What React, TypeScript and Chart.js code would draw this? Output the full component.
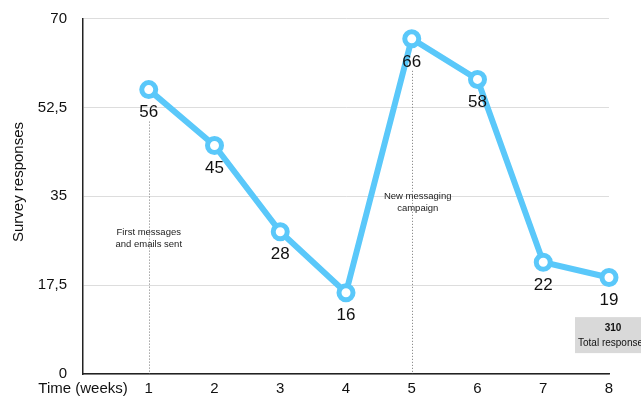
import React, { useEffect, useRef } from "react";
import { Chart, registerables } from "chart.js";

Chart.register(...registerables);

const weeks = [1, 2, 3, 4, 5, 6, 7, 8];
const responses = [56, 45, 28, 16, 66, 58, 22, 19];
const yTicks = [0, 17.5, 35, 52.5, 70];
const xAxisLabel = "Time (weeks)";
const yAxisTitle = "Survey responses";
const annotationWeeks = [1, 5];
const annotationTexts = [
  ["First messages", "and emails sent"],
  ["New messaging", "campaign"],
];
const annotationYValues = [27.8, 34.9];
const totalLabel = "Total responses";

const FONT = "'Liberation Sans', Arial, Helvetica, sans-serif";
const BLUE = "#5AC8FA";

export default function App() {
  const ref = useRef<HTMLCanvasElement | null>(null);

  useEffect(() => {
    document.body.style.margin = "0";
    const canvas = ref.current;
    if (!canvas) return;
    const total = responses.reduce((a, b) => a + b, 0);

    const extras = {
      id: "extras",
      beforeDatasetsDraw(chart: any) {
        const { ctx, scales } = chart;
        const xs = scales.x;
        const ys = scales.y;
        ctx.save();
        annotationWeeks.forEach((w) => {
          const idx = weeks.indexOf(w);
          const px = Math.round(xs.getPixelForValue(w)) + 0.5;
          const top = ys.getPixelForValue(responses[idx]) + 32;
          ctx.beginPath();
          ctx.setLineDash([1, 2]);
          ctx.strokeStyle = "#777";
          ctx.lineWidth = 1;
          ctx.moveTo(px, top);
          ctx.lineTo(px, ys.getPixelForValue(0));
          ctx.stroke();
        });
        ctx.setLineDash([]);
        ctx.fillStyle = "#222";
        ctx.font = `9.5px ${FONT}`;
        ctx.textAlign = "center";
        ctx.textBaseline = "middle";
        annotationWeeks.forEach((w, i) => {
          const px = xs.getPixelForValue(w) + (i === 1 ? 6 : 0);
          const py = ys.getPixelForValue(annotationYValues[i]);
          annotationTexts[i].forEach((line, j) => {
            ctx.fillText(line, px, py + j * 12);
          });
        });
        ctx.save();
        ctx.translate(19, 182);
        ctx.rotate(-Math.PI / 2);
        ctx.font = `15px ${FONT}`;
        ctx.fillStyle = "#111";
        ctx.fillText(yAxisTitle, 0, 0);
        ctx.restore();
        ctx.restore();
      },
      afterDatasetsDraw(chart: any) {
        const { ctx, scales } = chart;
        const xs = scales.x;
        const ys = scales.y;
        ctx.save();
        ctx.fillStyle = "#111";
        ctx.font = `17px ${FONT}`;
        ctx.textAlign = "center";
        ctx.textBaseline = "middle";
        weeks.forEach((w, i) => {
          const px = xs.getPixelForValue(w);
          const py = ys.getPixelForValue(responses[i]);
          ctx.fillText(String(responses[i]), px, py + 23);
        });
        const last = weeks[weeks.length - 1];
        const cx = xs.getPixelForValue(last) + 4;
        const boxTop = ys.getPixelForValue(11.2);
        const boxW = 76;
        const boxH = 36;
        ctx.fillStyle = "#d9d9d9";
        ctx.fillRect(cx - boxW / 2, boxTop, boxW, boxH);
        ctx.fillStyle = "#111";
        ctx.font = `bold 10px ${FONT}`;
        ctx.fillText(String(total), cx, boxTop + 11);
        ctx.font = `10px ${FONT}`;
        ctx.fillText(totalLabel, cx, boxTop + 26);
        ctx.restore();
      },
    };

    const chart = new Chart(canvas, {
      type: "line",
      data: {
        datasets: [
          {
            data: weeks.map((w, i) => ({ x: w, y: responses[i] })),
            borderColor: BLUE,
            borderWidth: 6,
            pointRadius: 7,
            pointHoverRadius: 7,
            pointBorderWidth: 5,
            pointBackgroundColor: "#ffffff",
            pointBorderColor: BLUE,
            tension: 0,
            clip: false as any,
          },
        ],
      },
      options: {
        responsive: false,
        animation: false,
        layout: { padding: { top: 18.5, right: 32, left: 0, bottom: 0 } },
        plugins: {
          legend: { display: false },
          tooltip: { enabled: false },
        },
        scales: {
          x: {
            type: "linear",
            min: 0,
            max: 8,
            afterBuildTicks(scale: any) {
              scale.ticks = [0, ...weeks].map((v) => ({ value: v }));
            },
            afterFit(scale: any) {
              scale.height = 23;
              scale.paddingLeft = 0;
              scale.paddingRight = 0;
            },
            ticks: {
              padding: 6,
              autoSkip: false,
              maxRotation: 0,
              color: "#111",
              font: { family: FONT, size: 15 },
              callback: (v: any) => (v === 0 ? xAxisLabel : String(v)),
            },
            grid: { display: false, drawTicks: false },
            border: { display: true, color: "#222", width: 1.5 },
          },
          y: {
            min: 0,
            max: 70,
            afterBuildTicks(scale: any) {
              scale.ticks = yTicks.map((v) => ({ value: v }));
            },
            afterFit(scale: any) {
              scale.width = 83;
              scale.paddingTop = 0;
              scale.paddingBottom = 0;
            },
            ticks: {
              padding: 16,
              color: "#111",
              font: { family: FONT, size: 15 },
              callback: (v: any) => String(v).replace(".", ","),
            },
            grid: { color: "#dddddd", lineWidth: 1, drawTicks: false },
            border: { display: true, color: "#222", width: 1.5 },
          },
        },
      },
      plugins: [extras],
    });
    return () => chart.destroy();
  }, []);

  return (
    <div style={{ position: "fixed", left: 0, top: 0, width: 641, height: 397 }}>
      <canvas ref={ref} width={641} height={397} />
    </div>
  );
}
